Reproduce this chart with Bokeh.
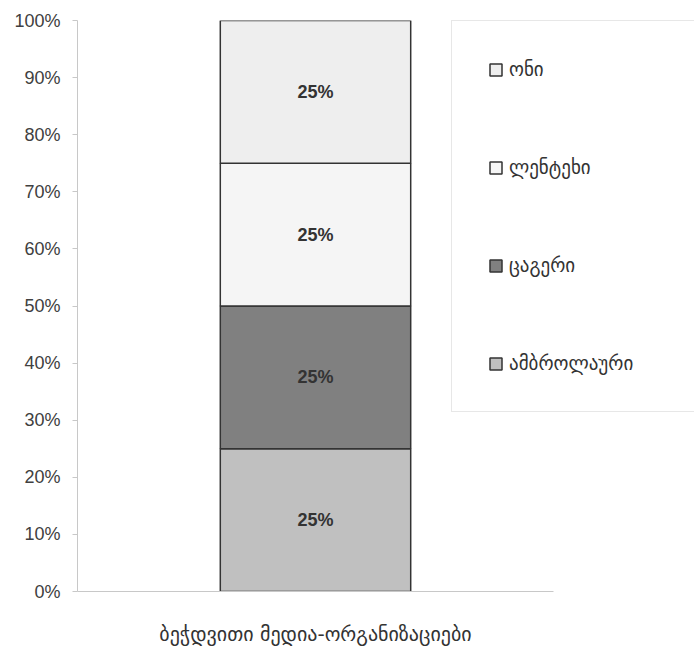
import numpy as np
from bokeh.plotting import figure
from bokeh.models import (Range1d, FixedTicker, NumeralTickFormatter,
                          Legend, LegendItem, ColumnDataSource)
from bokeh.core.properties import value
from bokeh.embed import file_html
from bokeh.resources import INLINE

# ---- data ----
categories = ["ბეჭდვითი მედია-ორგანიზაციები"]
series = ["ამბროლაური", "ცაგერი", "ლენტეხი", "ონი"]
amb = [0.25]
tsag = [0.25]
lent = [0.25]
oni = [0.25]
colors = ["#c0c0c0", "#808080", "#f5f5f5", "#eeeeee"]
y_ticks = [0, 0.1, 0.2, 0.3, 0.4, 0.5, 0.6, 0.7, 0.8, 0.9, 1.0]

xpos = list(range(len(categories)))
data = {"x": xpos, series[0]: amb, series[1]: tsag, series[2]: lent, series[3]: oni}
src = ColumnDataSource(data)

W, H = 694, 648
left, right_edge, top, bottom = 77, 694, 20, 597
cat_px = 476.0  # pixel width of one category slot
frame_w = right_edge - left
p = figure(width=W, height=H,
           x_range=Range1d(-0.5, -0.5 + frame_w / cat_px), y_range=Range1d(0, 1),
           output_backend="svg", toolbar_location=None,
           min_border_left=left, min_border_right=W - right_edge,
           min_border_top=top, min_border_bottom=H - bottom)
p.outline_line_color = None
p.xgrid.visible = False
p.ygrid.visible = False

renderers = p.vbar_stack(series, x="x", width=0.4, source=src, fill_color=colors,
                         line_color="#333333", line_width=1.5)

# value labels
vals = np.array([amb[0], tsag[0], lent[0], oni[0]])
tops = np.cumsum(vals)
mids = tops - vals / 2
lab_src = ColumnDataSource(dict(x=[xpos[0]] * len(vals), y=list(mids),
                                t=["{:.0f}%".format(v * 100) for v in vals]))
p.text(x="x", y="y", text="t", source=lab_src, text_align="center", text_baseline="middle",
       text_font=value("Liberation Sans"), text_font_size="18px", text_font_style="bold",
       text_color="#333333")

# y axis
ya = p.yaxis[0]
ya.ticker = FixedTicker(ticks=y_ticks)
ya.formatter = NumeralTickFormatter(format="0%")
ya.axis_line_color = "#c8c8c8"
ya.major_tick_line_color = "#c8c8c8"
ya.major_tick_out = 5
ya.major_tick_in = 0
ya.minor_tick_line_color = None
ya.major_label_text_font = "Liberation Sans"
ya.major_label_text_font_size = "18px"
ya.major_label_text_color = "#404040"
ya.major_label_standoff = 12

# x axis (line limited to the category slot)
xa = p.xaxis[0]
xa.bounds = (-0.5, len(categories) - 0.5)
xa.ticker = FixedTicker(ticks=xpos)
xa.major_label_overrides = {i: c for i, c in zip(xpos, categories)}
xa.axis_line_color = "#c8c8c8"
xa.major_tick_line_color = None
xa.minor_tick_line_color = None
xa.major_label_text_font = "DejaVu Sans"
xa.major_label_text_font_size = "20px"
xa.major_label_text_color = "#333333"
xa.major_label_standoff = 24

# legend (reverse order)
items = [LegendItem(label=series[i], renderers=[renderers[i]]) for i in reversed(range(len(series)))]
legend = Legend(items=items, location=(374, 179), orientation="vertical",
                glyph_width=15, glyph_height=15, label_height=24, label_width=175,
                label_standoff=6, spacing=74, padding=36, margin=0,
                label_text_font="DejaVu Sans", label_text_font_size="19px",
                label_text_color="#333333",
                border_line_color="#d0d0d0", border_line_width=1,
                background_fill_color="white", background_fill_alpha=1)
p.add_layout(legend, "center")

open("out.html", "w").write(file_html(p, INLINE))
